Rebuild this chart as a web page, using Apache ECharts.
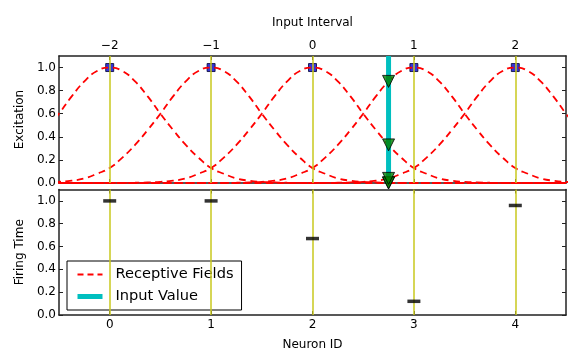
<!DOCTYPE html>
<html>
<head>
<meta charset="utf-8">
<script src="https://cdn.jsdelivr.net/npm/echarts@6/dist/echarts.min.js"></script>
<style>
  html, body { margin: 0; padding: 0; background: #fff; }
  #chart { width: 581px; height: 352px; }
</style>
</head>
<body>
<div id="chart"></div>
<script>
// receptive field centres (input interval units) and the neuron each belongs to
var centers = [-2, -1, 0, 1, 2];
var neuronIds = [0, 1, 2, 3, 4];

// one receptive-field profile: excitation vs distance from centre
var profileOffsets = [0, 0.125, 0.25, 0.375, 0.5, 0.625, 0.75, 0.875, 1.0, 1.125, 1.25, 1.375, 1.5, 1.625, 1.75, 1.875, 2.0, 2.25, 2.5, 2.75, 3.0, 3.5, 4.0, 4.5];
var profileValues  = [1.0, 0.97, 0.88, 0.75, 0.6, 0.46, 0.33, 0.22, 0.13, 0.08, 0.04, 0.02, 0.01, 0.005, 0.002, 0.001, 0, 0, 0, 0, 0, 0, 0, 0];

// the presented input and the excitation it gives each neuron
var inputValue = 0.75;
var excitations = [0.0, 0.002, 0.33, 0.88, 0.04];

// resulting firing times per neuron
var firingTimes = [1.0, 1.0, 0.67, 0.12, 0.96];

var yTicks = [0, 0.2, 0.4, 0.6, 0.8, 1.0];
var font = 'DejaVu Sans';
var yellow = '#c8c81e';
var frame = '#222';

function minus(v) { return String(v).replace('-', '\u2212'); }

function curvePoints(c) {
	var pts = [];
	for (var i = profileOffsets.length - 1; i > 0; i--) pts.push([c - profileOffsets[i], profileValues[i]]);
	for (var j = 0; j < profileOffsets.length; j++) pts.push([c + profileOffsets[j], profileValues[j]]);
	return pts;
}

var chart = echarts.init(document.getElementById('chart'));

function xAx(grid, min, max, pos, labels, name, gap) {
	return {
		type: 'value', gridIndex: grid, min: min, max: max, position: pos,
		name: name || '', nameLocation: 'middle', nameGap: gap || 0,
		nameTextStyle: { fontFamily: font, fontSize: 12, color: '#000' },
		axisLine: { onZero: false, lineStyle: { color: frame, width: 1.5 } },
		axisTick: { show: true, inside: true, length: 4, customValues: labels, lineStyle: { color: frame } },
		axisLabel: { show: !!name, customValues: labels, margin: 4, fontFamily: font, fontSize: 12, color: '#000', formatter: minus },
		splitLine: { show: false }
	};
}
function yAx(grid, pos, name) {
	return {
		type: 'value', gridIndex: grid, min: 0, max: 1.1, position: pos,
		name: name || '', nameLocation: 'middle', nameGap: 31,
		nameTextStyle: { fontFamily: font, fontSize: 12, color: '#000' },
		axisLine: { show: true, onZero: false, lineStyle: { color: frame, width: 1.5 } },
		axisTick: { show: true, inside: true, length: 4, customValues: yTicks, lineStyle: { color: frame } },
		axisLabel: { show: !!name, customValues: yTicks, margin: 3, fontFamily: font, fontSize: 12, color: '#000',
			formatter: function (v) { return v.toFixed(1); } },
		splitLine: { show: false }
	};
}

var series = [];

// yellow centre lines
series.push({
	type: 'line', xAxisIndex: 1, yAxisIndex: 0, data: [], silent: true,
	markLine: { symbol: 'none', silent: true, label: { show: false }, animation: false,
		lineStyle: { color: yellow, width: 1.5, type: 'solid' },
		data: centers.map(function (c) { return { xAxis: c }; }) }
});
series.push({
	type: 'line', xAxisIndex: 2, yAxisIndex: 2, data: [], silent: true,
	markLine: { symbol: 'none', silent: true, label: { show: false }, animation: false,
		lineStyle: { color: yellow, width: 1.5, type: 'solid' },
		data: neuronIds.map(function (n) { return { xAxis: n }; }) }
});

// peaks
series.push({
	type: 'scatter', xAxisIndex: 1, yAxisIndex: 0, symbol: 'rect', symbolSize: 8, z: 3,
	itemStyle: { color: '#0000cc', borderColor: '#000033', borderWidth: 1 },
	data: centers.map(function (c) { return [c, 1.0]; })
});

// receptive fields
centers.forEach(function (c) {
	series.push({
		name: 'Receptive Fields', type: 'line', xAxisIndex: 1, yAxisIndex: 0,
		symbol: 'none', smooth: 0.5, z: 4,
		lineStyle: { color: '#ff0000', width: 1.8, type: [7, 4.5] },
		itemStyle: { color: '#ff0000' },
		data: curvePoints(c)
	});
});

// input value
series.push({
	name: 'Input Value', type: 'line', xAxisIndex: 1, yAxisIndex: 0, symbol: 'none', z: 5,
	lineStyle: { color: '#00bfbf', width: 5 }, itemStyle: { color: '#00bfbf' },
	data: [[inputValue, 0], [inputValue, 1.1]]
});

// excitation hits
series.push({
	type: 'scatter', xAxisIndex: 1, yAxisIndex: 0, symbol: 'triangle', symbolRotate: 180, symbolSize: 12, z: 6,
	itemStyle: { color: '#008000', borderColor: '#000', borderWidth: 1 },
	data: excitations.map(function (e) { return [inputValue, e]; })
});

// firing times
series.push({
	type: 'scatter', xAxisIndex: 2, yAxisIndex: 2, symbol: 'rect', symbolSize: [13, 3.5], z: 5,
	itemStyle: { color: '#000' },
	data: neuronIds.map(function (n, i) { return [n, firingTimes[i]]; })
});

chart.setOption({
	animation: false,
	textStyle: { fontFamily: font },
	grid: [
		{ left: 59, right: 15, top: 56, height: 127 },
		{ left: 59, right: 15, top: 189.5, height: 126.5 }
	],
	xAxis: [
		xAx(0, -2.5, 2.5, 'bottom', centers),
		xAx(0, -2.5, 2.5, 'top', centers, 'Input Interval', 27),
		xAx(1, -0.5, 4.5, 'bottom', neuronIds, 'Neuron ID', 24),
		xAx(1, -0.5, 4.5, 'top', neuronIds)
	],
	yAxis: [
		yAx(0, 'left', 'Excitation'),
		yAx(0, 'right'),
		yAx(1, 'left', 'Firing Time'),
		yAx(1, 'right')
	],
	legend: {
		orient: 'vertical', left: 67, top: 261,
		data: [
			{ name: 'Receptive Fields', itemStyle: { opacity: 0 }, lineStyle: { color: '#ff0000', width: 1.8, type: [6, 4] } },
			{ name: 'Input Value', itemStyle: { opacity: 0 }, lineStyle: { color: '#00bfbf', width: 5 } }
		],
		itemWidth: 25, itemHeight: 12, itemGap: 7,
		padding: [6, 8, 6, 8],
		backgroundColor: '#fff', borderColor: '#000', borderWidth: 1, borderRadius: 0,
		textStyle: { fontFamily: font, fontSize: 14.6, color: '#000', padding: [0, 0, 0, 8] }
	},
	series: series
});
</script>
</body>
</html>
